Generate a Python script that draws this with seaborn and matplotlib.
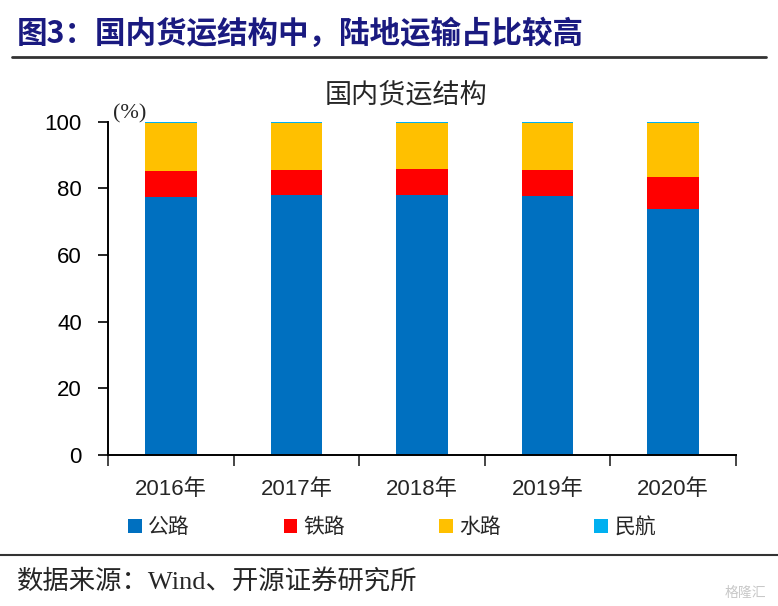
import numpy as np
import pandas as pd
import matplotlib
matplotlib.use("Agg")
import matplotlib.pyplot as plt
import seaborn as sns
from matplotlib.patches import Patch

# data (share of freight volume, %)
years = ["2016年", "2017年", "2018年", "2019年", "2020年"]
road = [77.5, 77.9, 78.0, 77.6, 73.9]
rail = [7.6, 7.7, 7.9, 8.0, 9.4]
water = [14.6, 14.1, 13.8, 14.1, 16.4]
air = [0.3, 0.3, 0.3, 0.3, 0.3]
series_names = ["公路", "铁路", "水路", "民航"]
colors = ["#0070C0", "#FF0000", "#FFC000", "#00B0F0"]

sns.set_theme(style="white")
plt.rcParams["font.family"] = ["Liberation Sans", "Noto Sans CJK SC", "DejaVu Sans"]
cjk = ["Noto Sans CJK SC", "DejaVu Sans"]

df = pd.DataFrame({"year": years, "公路": road, "铁路": rail, "水路": water, "民航": air})
# cumulative tops, drawn from the tallest down so each layer shows its own slice
cum = df[series_names].cumsum(axis=1)

fig = plt.figure(figsize=(7.78, 6.06), dpi=100)
ax = fig.add_axes([0.139, 0.249, 0.807, 0.550])

for name, col in reversed(list(zip(series_names, colors))):
    sns.barplot(x=df["year"], y=cum[name], color=col, width=0.41,
                saturation=1, ax=ax, linewidth=0)

ax.set_ylim(0, 100)
ax.set_xlim(-0.5, 4.5)
ax.set_yticks(np.arange(0, 101, 20))
ax.set_xlabel("")
ax.set_ylabel("")
ax.tick_params(axis="y", which="major", length=7, width=1.2, direction="out",
               labelsize=16, colors="black", pad=12, left=True)
ax.tick_params(axis="x", which="major", length=0, labelsize=16, pad=17)
ax.set_xticks(np.arange(-0.5, 4.6, 1), minor=True)
ax.tick_params(axis="x", which="minor", length=8, width=1.2, direction="out", bottom=True)
for side in ["top", "right"]:
    ax.spines[side].set_visible(False)
for side in ["left", "bottom"]:
    ax.spines[side].set_visible(True)
    ax.spines[side].set_color("black")
    ax.spines[side].set_linewidth(1.4)

ax.text(0.008, 0.995, "(%)", transform=ax.transAxes, fontsize=16,
        family=["Liberation Serif"], ha="left", va="bottom")

# chart title
fig.text(0.522, 0.843, "国内货运结构", fontsize=19.5, family=cjk, ha="center", va="center")

# header
fig.text(0.022, 0.944, "图3：国内货运结构中，陆地运输占比较高", fontsize=22,
         fontweight="bold", color="#1A1A80", family=cjk, ha="left", va="center")
fig.add_artist(plt.Line2D([0.015, 0.985], [0.906, 0.906], color="#333333", lw=2))

# legend
handles = [Patch(facecolor=c, edgecolor="none", label=n) for n, c in zip(series_names, colors)]
fig.legend(handles=handles, loc="center", bbox_to_anchor=(0.504, 0.13), ncol=4,
           frameon=False, prop={"family": cjk, "size": 15}, handlelength=0.65,
           handleheight=0.65, handletextpad=0.3, columnspacing=4.5)

# footer
fig.add_artist(plt.Line2D([0.0, 1.0], [0.084, 0.084], color="#333333", lw=1.5))
fig.text(0.022, 0.040, "数据来源：Wind、开源证券研究所", fontsize=19,
         family=["Liberation Serif", "Noto Sans CJK SC"], ha="left", va="center")
fig.text(0.985, 0.022, "格隆汇", fontsize=10, color="#C8C8C8", family=cjk,
         ha="right", va="center")

fig.savefig("out.png", dpi=100, facecolor="white")
